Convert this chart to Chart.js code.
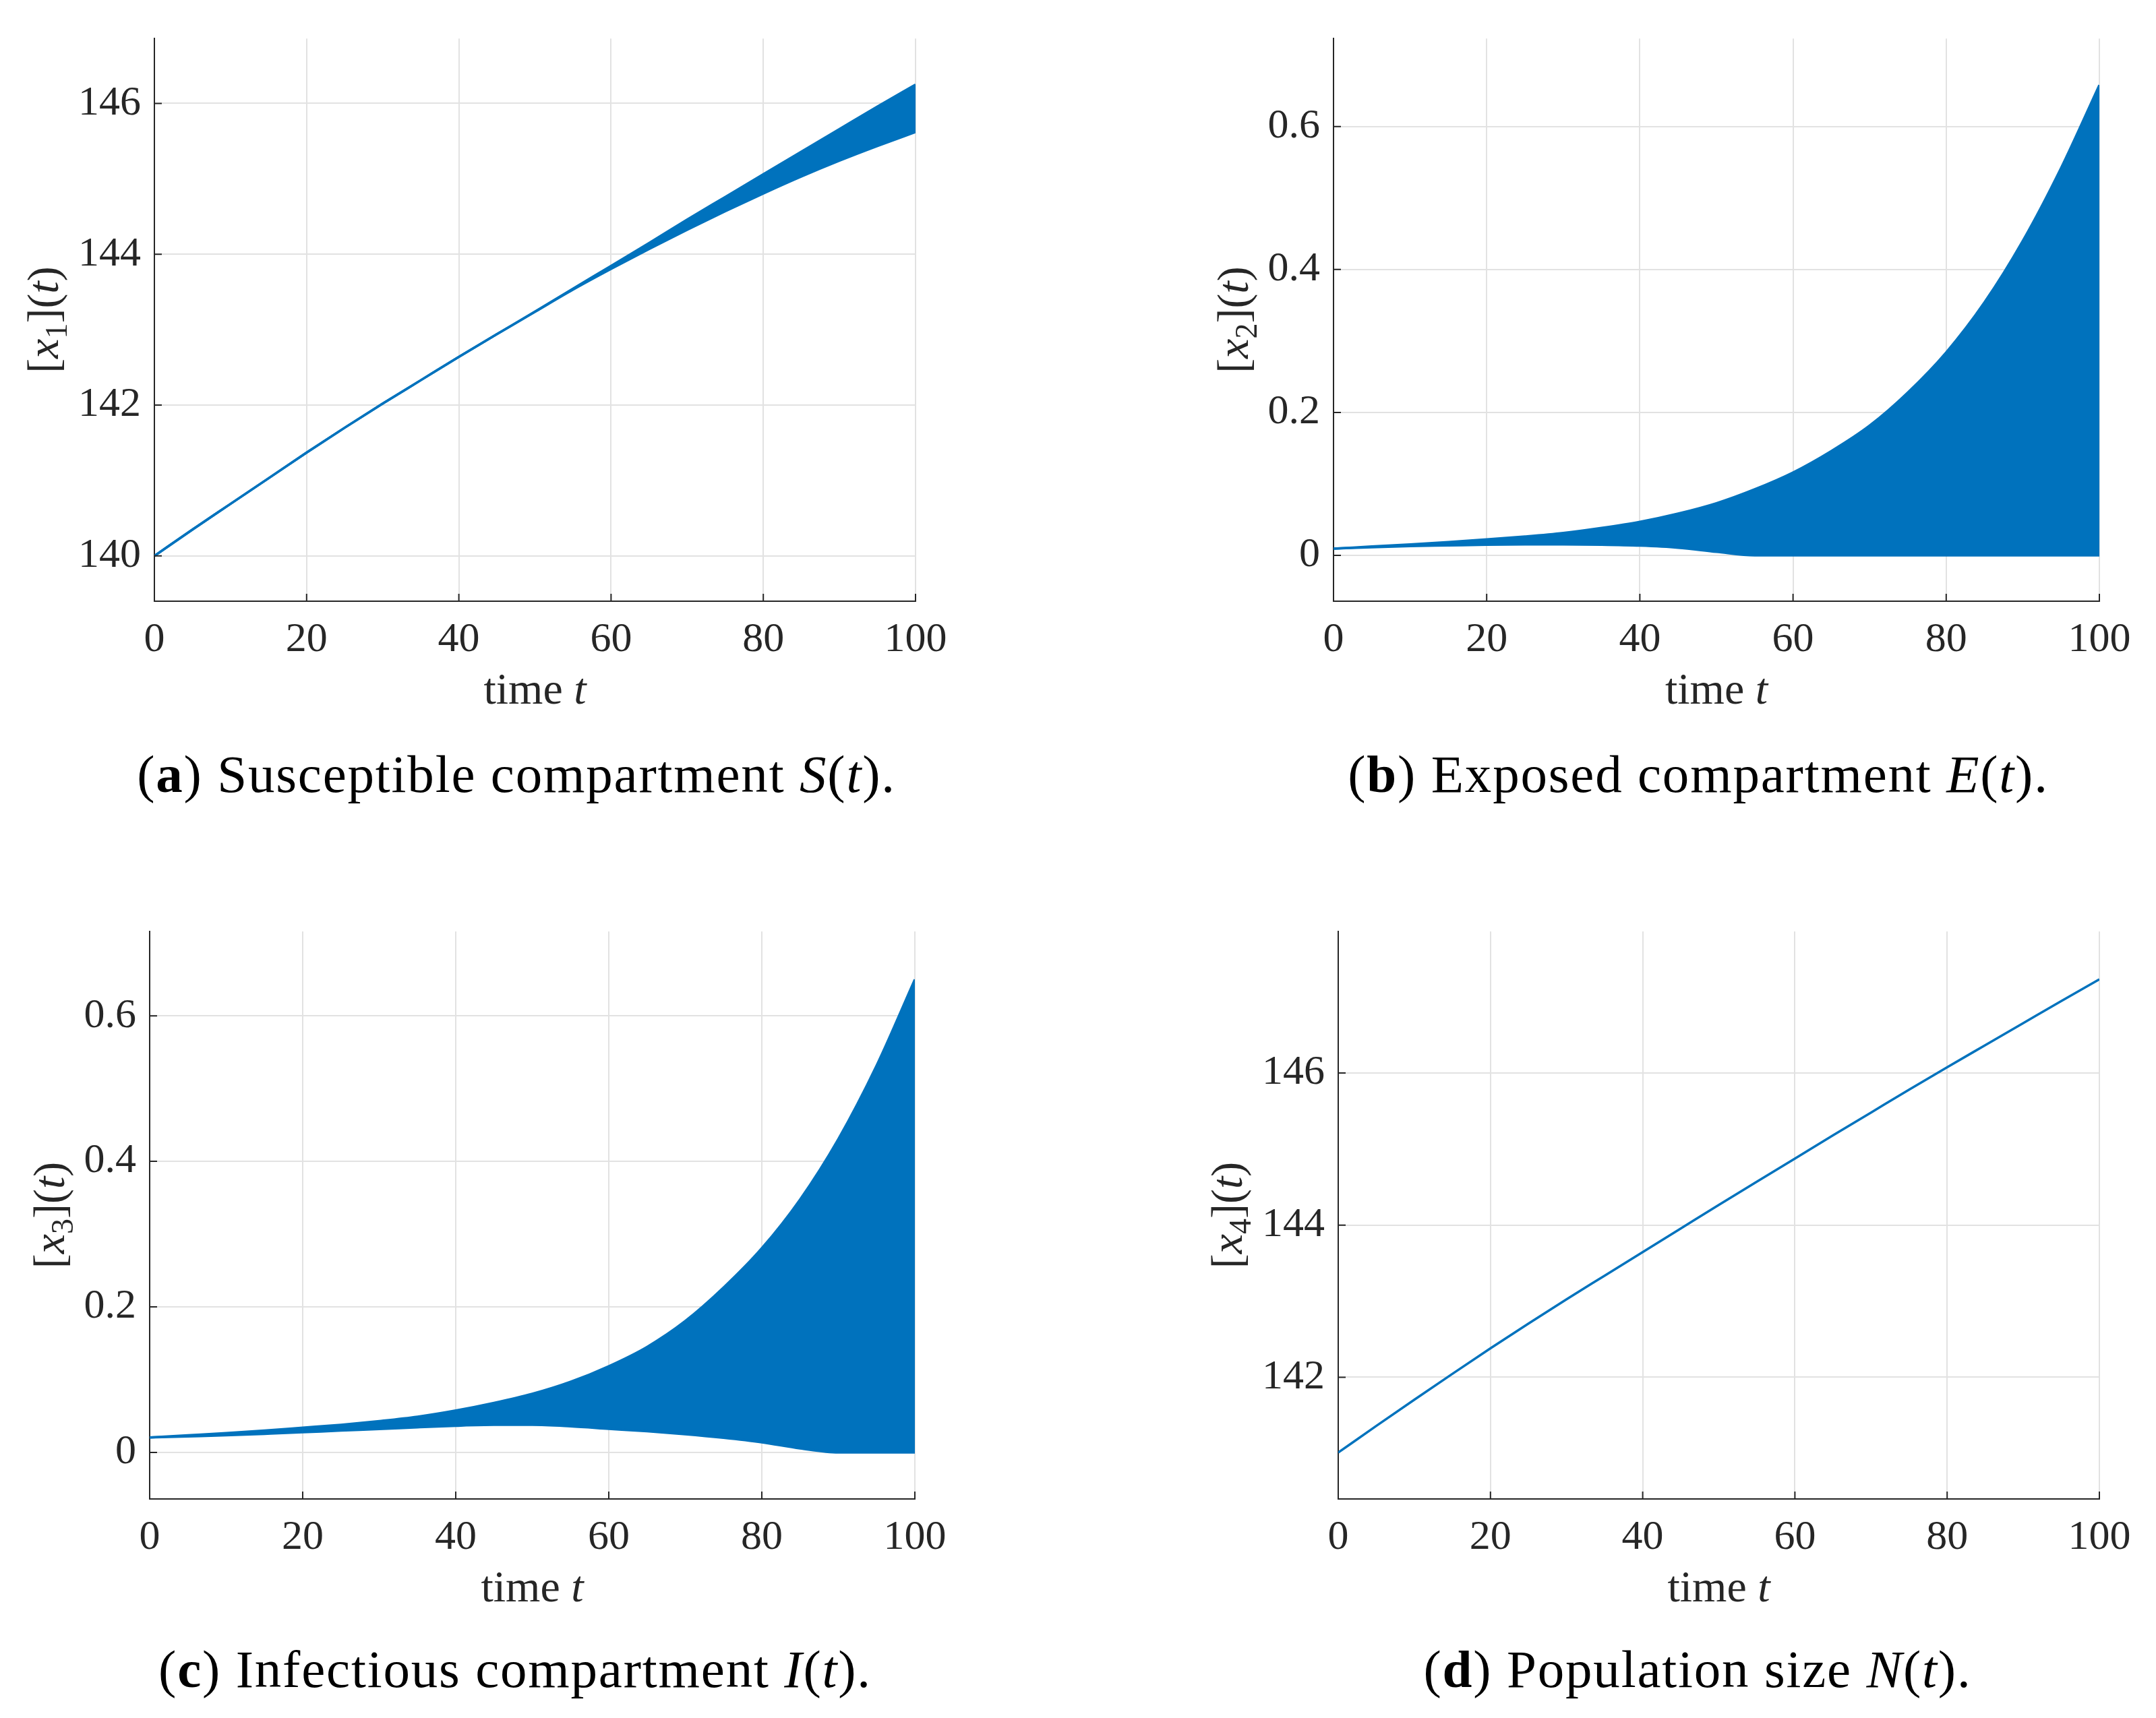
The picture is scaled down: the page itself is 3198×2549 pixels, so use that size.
<!DOCTYPE html>
<html>
<head>
<meta charset="utf-8">
<script src="https://cdn.jsdelivr.net/npm/chart.js@4.4.1/dist/chart.umd.min.js"></script>
<style>
  html, body { margin: 0; padding: 0; background: #fff; }
  body { width: 3198px; height: 2549px; position: relative; overflow: hidden; }
  canvas { position: absolute; }
  .cap {
    position: absolute;
    font-family: "Liberation Serif", serif;
    font-size: 79px;
    letter-spacing: 1.8px;
    line-height: 1;
    color: #000;
    white-space: nowrap;
    transform: translateX(-50%);
  }
</style>
</head>
<body>
<canvas id="chartS" width="1599" height="1274" style="left:0px;top:0px"></canvas>
<canvas id="chartE" width="1599" height="1274" style="left:1599px;top:0px"></canvas>
<canvas id="chartI" width="1599" height="1275" style="left:0px;top:1274px"></canvas>
<canvas id="chartN" width="1599" height="1275" style="left:1599px;top:1274px"></canvas>

<div class="cap" style="left:766px;top:1109px">(<b>a</b>) Susceptible compartment <i>S</i>(<i>t</i>).</div>
<div class="cap" style="left:2519px;top:1109px">(<b>b</b>) Exposed compartment <i>E</i>(<i>t</i>).</div>
<div class="cap" style="left:764px;top:2437px">(<b>c</b>) Infectious compartment <i>I</i>(<i>t</i>).</div>
<div class="cap" style="left:2518px;top:2437px">(<b>d</b>) Population size <i>N</i>(<i>t</i>).</div>

<script>
// time grid and ticks
const timeT = [0, 5, 10, 15, 20, 25, 30, 35, 40, 45, 50, 55, 60, 65, 70, 75, 80, 85, 90, 95, 100];
const xTicks = [0, 20, 40, 60, 80, 100];

// (a) susceptible: lower / upper bound
const sUpper = [140.00, 140.35, 140.69, 141.03, 141.37, 141.70, 142.02, 142.33, 142.64, 142.94, 143.24,
                143.545, 143.845, 144.15, 144.46, 144.76, 145.06, 145.36, 145.66, 145.96, 146.25];
const sLower = [140.00, 140.35, 140.69, 141.03, 141.37, 141.70, 142.02, 142.33, 142.64, 142.94, 143.235,
                143.53, 143.805, 144.07, 144.325, 144.57, 144.805, 145.03, 145.24, 145.435, 145.62];
const sTicks = [140, 142, 144, 146];

// (b) exposed
const eUpper = [0.0095, 0.0125, 0.0155, 0.0188, 0.0224, 0.0265, 0.0315, 0.0385, 0.047, 0.0585, 0.073,
                0.0925, 0.116, 0.146, 0.1816, 0.228, 0.284, 0.354, 0.440, 0.542, 0.658];
const eLower = [0.0095, 0.0115, 0.013, 0.014, 0.015, 0.0155, 0.0155, 0.0150, 0.0137, 0.0108, 0.005,
                0, 0, 0, 0, 0, 0, 0, 0, 0, 0];
const eTicks = [0, 0.2, 0.4, 0.6];

// (c) infectious
const iUpper = [0.0205, 0.0235, 0.0265, 0.030, 0.034, 0.038, 0.043, 0.049, 0.0575, 0.068, 0.0805,
                0.097, 0.1185, 0.145, 0.1806, 0.2266, 0.2806, 0.3476, 0.4306, 0.5316, 0.650];
const iLower = [0.0205, 0.022, 0.0235, 0.0255, 0.0276, 0.030, 0.032, 0.0345, 0.0366, 0.0378, 0.0378,
                0.0358, 0.0324, 0.029, 0.025, 0.020, 0.0138, 0.0055, 0, 0, 0];
const iTicks = [0, 0.2, 0.4, 0.6];

// (d) population size
const nPop = [141.01, 141.36, 141.705, 142.045, 142.38, 142.705, 143.025, 143.335, 143.645, 143.955, 144.265,
              144.57, 144.875, 145.18, 145.48, 145.78, 146.075, 146.365, 146.655, 146.945, 147.23];
const nTicks = [142, 144, 146];

const BLUE = '#0072BD';
const AXIS = '#262626';
const GRID = '#e2e2e2';
const FONT = '"Liberation Serif", serif';
const TICK_SIZE = 62;
const TITLE_SIZE = 66;

function pts(ys) {
    return ys.map((y, i) => ({ x: timeT[i], y: y }));
}

// draw a run of text pieces (upright / italic / subscript) centred at cx
function drawRich(ctx, parts, cx, baseY) {
    const fontOf = p => (p.i ? 'italic ' : '') + (p.sub ? Math.round(TITLE_SIZE * 0.7) : TITLE_SIZE) + 'px ' + FONT;
    let total = 0;
    parts.forEach(p => { ctx.font = fontOf(p); total += ctx.measureText(p.t).width; });
    let x = cx - total / 2;
    parts.forEach(p => {
        ctx.font = fontOf(p);
        ctx.fillText(p.t, x, baseY + (p.sub ? TITLE_SIZE * 0.2 : 0));
        x += ctx.measureText(p.t).width;
    });
}

// axis titles + inward tick marks, matlab style
const matlabAxes = {
    id: 'matlabAxes',
    afterDraw(chart, args, opts) {
        const { ctx, chartArea: a } = chart;
        const xs = chart.scales.x, ys = chart.scales.y;
        ctx.save();
        ctx.strokeStyle = AXIS;
        ctx.lineWidth = 2;
        ctx.beginPath();
        xTicks.forEach(v => {
            const px = xs.getPixelForValue(v);
            ctx.moveTo(px, a.bottom);
            ctx.lineTo(px, a.bottom - 11);
        });
        opts.yTicks.forEach(v => {
            const py = ys.getPixelForValue(v);
            ctx.moveTo(a.left, py);
            ctx.lineTo(a.left + 11, py);
        });
        ctx.stroke();

        ctx.fillStyle = AXIS;
        ctx.textBaseline = 'alphabetic';
        drawRich(ctx, [{ t: 'time ' }, { t: 't', i: 1 }], (a.left + a.right) / 2, a.bottom + 152);

        ctx.font = TICK_SIZE + 'px ' + FONT;
        let maxW = 0;
        opts.yTicks.forEach(v => { maxW = Math.max(maxW, ctx.measureText(String(v)).width); });
        const baseX = a.left - 20 - maxW - 30;
        ctx.translate(baseX, (a.top + a.bottom) / 2);
        ctx.rotate(-Math.PI / 2);
        drawRich(ctx, [{ t: '[' }, { t: 'x', i: 1 }, { t: opts.sub, sub: 1 }, { t: '](' }, { t: 't', i: 1 }, { t: ')' }], 0, 0);
        ctx.restore();
    }
};

function makePanel(id, area, yMin, yMax, yTicks, sub, datasets) {
    const canvas = document.getElementById(id);
    const cw = canvas.width, ch = canvas.height;
    const yW = 150, xH = 150;
    return new Chart(canvas.getContext('2d'), {
        type: 'line',
        data: { datasets: datasets },
        options: {
            responsive: false,
            animation: false,
            devicePixelRatio: 1,
            layout: {
                padding: { left: area[0] - yW, top: area[1], right: cw - area[2], bottom: ch - area[3] - xH }
            },
            elements: { point: { radius: 0 }, line: { cubicInterpolationMode: 'monotone' } },
            plugins: {
                legend: { display: false },
                tooltip: { enabled: false },
                matlabAxes: { yTicks: yTicks, sub: sub }
            },
            scales: {
                x: {
                    type: 'linear',
                    min: 0,
                    max: 100,
                    afterFit: s => { s.height = xH; },
                    afterBuildTicks: s => { s.ticks = xTicks.map(v => ({ value: v })); },
                    grid: { color: GRID, lineWidth: 2, drawTicks: false },
                    border: { display: true, color: AXIS, width: 2 },
                    ticks: { color: AXIS, font: { family: FONT, size: TICK_SIZE }, padding: 21, maxRotation: 0,
                             callback: v => String(v) }
                },
                y: {
                    type: 'linear',
                    min: yMin,
                    max: yMax,
                    afterFit: s => { s.width = yW; },
                    afterBuildTicks: s => { s.ticks = yTicks.map(v => ({ value: v })); },
                    grid: { color: GRID, lineWidth: 2, drawTicks: false },
                    border: { display: true, color: AXIS, width: 2 },
                    ticks: { color: AXIS, font: { family: FONT, size: TICK_SIZE }, padding: 20,
                             callback: v => String(v) }
                }
            }
        },
        plugins: [matlabAxes]
    });
}

function band(lower, upper) {
    return [
        { data: pts(lower), borderColor: BLUE, borderWidth: 3.5, fill: false },
        { data: pts(upper), borderColor: BLUE, borderWidth: 3.5, fill: '-1', backgroundColor: BLUE }
    ];
}

makePanel('chartS', [229, 50, 1358, 892], 139.4, 146.86, sTicks, '1', band(sLower, sUpper));
makePanel('chartE', [379, 50, 1515, 892], -0.064, 0.723, eTicks, '2', band(eLower, eUpper));
makePanel('chartI', [222, 108, 1357, 950], -0.064, 0.716, iTicks, '3', band(iLower, iUpper));
makePanel('chartN', [386, 108, 1515, 950], 140.4, 147.86, nTicks, '4',
          [{ data: pts(nPop), borderColor: BLUE, borderWidth: 3.5, fill: false }]);
</script>
</body>
</html>
